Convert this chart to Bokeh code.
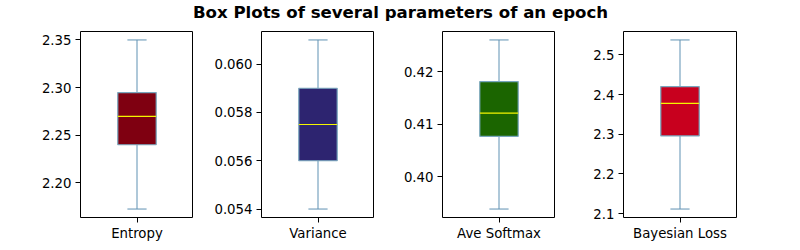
from bokeh.plotting import figure
from bokeh.layouts import column, row
from bokeh.models import Range1d, FixedTicker, PrintfTickFormatter
from bokeh.embed import file_html
from bokeh.resources import INLINE

title_text = "Box Plots of several parameters of an epoch"
names = ["Entropy", "Variance", "Ave Softmax", "Bayesian Loss"]
whisker_low = [2.1725, 0.0540, 0.3939, 2.1115]
q1 = [2.2400, 0.0560, 0.4077, 2.2958]
median = [2.2698, 0.0575, 0.4121, 2.3775]
q3 = [2.2948, 0.0590, 0.4181, 2.4200]
whisker_high = [2.3500, 0.0610, 0.4260, 2.5375]
box_colors = ["#7f0011", "#2d2470", "#1b6500", "#c8001e"]
y_ticks = [
    [2.20, 2.25, 2.30, 2.35],
    [0.054, 0.056, 0.058, 0.060],
    [0.40, 0.41, 0.42],
    [2.1, 2.2, 2.3, 2.4, 2.5],
]
y_formats = ["%.2f", "%.3f", "%.2f", "%.1f"]

FONT = "DejaVu Sans"
WHISK = "#5f91b3"
EDGE = "#78a6bd"

FRAME_W = 113
FRAME_H = 188
TOP = 31
BOTTOM = 24
FIRST_LEFT = 80
GAP = 68
LAST_RIGHT = 64

figs = []
for i, name in enumerate(names):
    left = FIRST_LEFT if i == 0 else GAP
    right = LAST_RIGHT if i == len(names) - 1 else 0
    span = whisker_high[i] - whisker_low[i]
    p = figure(
        width=left + FRAME_W + right,
        height=FRAME_H + BOTTOM,
        x_range=Range1d(0.5, 1.5),
        y_range=Range1d(whisker_low[i] - 0.05 * span, whisker_high[i] + 0.05 * span),
        output_backend="svg",
        toolbar_location=None,
        min_border_left=left,
        min_border_right=right,
        min_border_top=0,
        min_border_bottom=BOTTOM,
    )
    p.grid.visible = False
    p.outline_line_color = "black"
    p.outline_line_width = 1
    p.background_fill_color = "white"
    p.border_fill_color = "white"

    for ax in (p.xaxis[0], p.yaxis[0]):
        ax.axis_line_color = None
        ax.major_tick_in = 0
        ax.major_tick_out = 5
        ax.major_tick_line_color = "black"
        ax.minor_tick_line_color = None
        ax.major_label_text_font = FONT
        ax.major_label_text_font_size = "13.3px"
        ax.major_label_text_color = "black"
        ax.major_label_standoff = 4

    p.xaxis.ticker = FixedTicker(ticks=[1])
    p.xaxis.major_label_overrides = {1: name}
    p.xaxis.major_label_standoff = 3
    p.yaxis.ticker = FixedTicker(ticks=y_ticks[i])
    p.yaxis.formatter = PrintfTickFormatter(format=y_formats[i])

    x = [1]
    # whiskers
    p.segment(x0=x, y0=[q3[i]], x1=x, y1=[whisker_high[i]], line_color=WHISK, line_width=1)
    p.segment(x0=x, y0=[whisker_low[i]], x1=x, y1=[q1[i]], line_color=WHISK, line_width=1)
    # caps
    p.segment(x0=[1 - 0.085], y0=[whisker_high[i]], x1=[1 + 0.085], y1=[whisker_high[i]],
              line_color=WHISK, line_width=1)
    p.segment(x0=[1 - 0.085], y0=[whisker_low[i]], x1=[1 + 0.085], y1=[whisker_low[i]],
              line_color=WHISK, line_width=1)
    # box
    p.vbar(x=x, width=0.34, bottom=[q1[i]], top=[q3[i]],
           fill_color=box_colors[i], line_color=EDGE, line_width=1.2)
    # median
    p.segment(x0=[1 - 0.17], y0=[median[i]], x1=[1 + 0.17], y1=[median[i]],
              line_color="#f5f500", line_width=1.2)
    figs.append(p)

total_w = sum(f.width for f in figs)
t = figure(width=total_w, height=TOP, output_backend="svg", toolbar_location=None,
           x_range=Range1d(0, 1), y_range=Range1d(0, 1),
           min_border_left=0, min_border_right=0, min_border_top=0, min_border_bottom=0)
t.axis.visible = False
t.grid.visible = False
t.outline_line_color = None
t.title.text = title_text
t.title.align = "center"
t.title.text_font = FONT
t.title.text_font_size = "16.6px"
t.title.text_font_style = "bold"
t.title.text_color = "black"
t.title.offset = 0
t.title.standoff = 0

layout = column(t, row(*figs))
open("out.html", "w").write(file_html(layout, INLINE))
